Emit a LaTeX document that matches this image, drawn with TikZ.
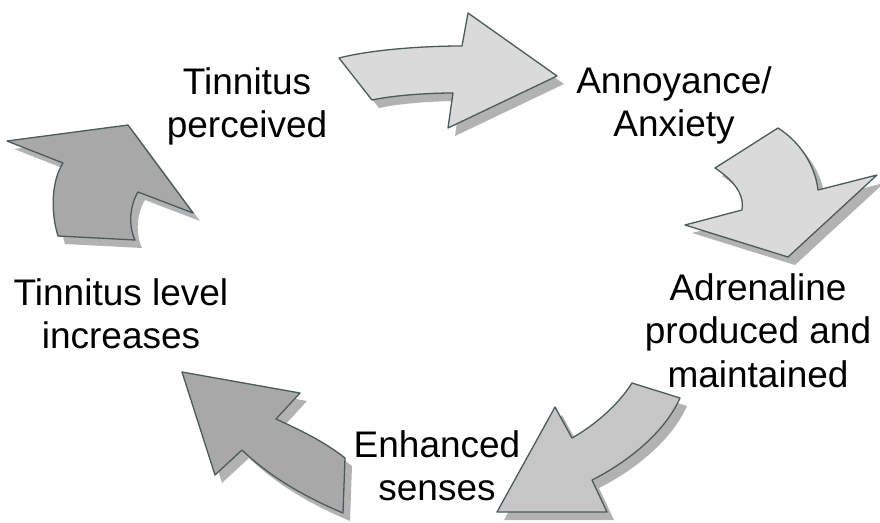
\documentclass[tikz,border=0pt]{standalone}
\usepackage{fontspec}
\setmainfont{Liberation Sans}
\usetikzlibrary{shadows}
\definecolor{edgec}{HTML}{4B5A5A}
\definecolor{lightf}{HTML}{DADADA}
\definecolor{midf}{HTML}{C6C6C6}
\definecolor{darkf}{HTML}{A8A8A8}
\tikzset{
  blockarrow/.style={draw=edgec, line width=1.3pt, line join=round,
    drop shadow={shadow xshift=7pt, shadow yshift=-8pt, fill=black, opacity=0.3}},
  label/.style={anchor=north, inner sep=0pt, align=center,
    font=\fontsize{37}{43.5}\selectfont}
}
\begin{document}
\begin{tikzpicture}[x=1pt,y=-1pt]
\useasboundingbox (0,0) rectangle (880,522);
% arrow 1 (top)
\path[blockarrow, fill=lightf] (339,58) .. controls (370,50) and (420,46) .. (462,46)
  -- (468,13) -- (557,76) -- (448,128) -- (453,93)
  .. controls (430,93) and (395,95) .. (372,100) -- cycle;
% arrow 2 (right)
\path[blockarrow, fill=lightf] (715,168) -- (778,128)
  .. controls (800,142) and (815,165) .. (818,190)
  -- (877,175) -- (788,257) -- (685,225) -- (742,210)
  .. controls (745,192) and (730,178) .. cycle;
% arrow 3 (bottom right)
\path[blockarrow, fill=midf] (632,383) -- (680,398)
  .. controls (665,432) and (628,462) .. (592,480)
  -- (607,512) -- (497,512) -- (555,407) -- (572,438)
  .. controls (595,425) and (618,405) .. cycle;
% arrow 4 (bottom left)
\path[blockarrow, fill=darkf] (182,372) -- (300,393) -- (276,419)
  .. controls (300,430) and (325,442) .. (345,458)
  -- (343,513)
  .. controls (305,497) and (270,477) .. (242,450)
  -- (215,475) -- cycle;
% arrow 5 (left)
\path[blockarrow, fill=darkf] (7,141) -- (128,125) -- (193,213) -- (138,192)
  .. controls (130,205) and (128,225) .. (135,240)
  -- (58,236)
  .. controls (50,210) and (52,180) .. (63,163) -- cycle;
% labels
\node[label] (perc) at (247,67) {Tinnitus\\perceived};
\node[label] (anx) at (674,66) {Annoyance/\\Anxiety};
\node[label] (adr) at (758,273) {Adrenaline\\produced and\\maintained};
\node[label] (enh) at (437,430) {Enhanced\\senses};
\node[label] (lvl) at (121,278) {Tinnitus level\\increases};
\end{tikzpicture}
\end{document}
